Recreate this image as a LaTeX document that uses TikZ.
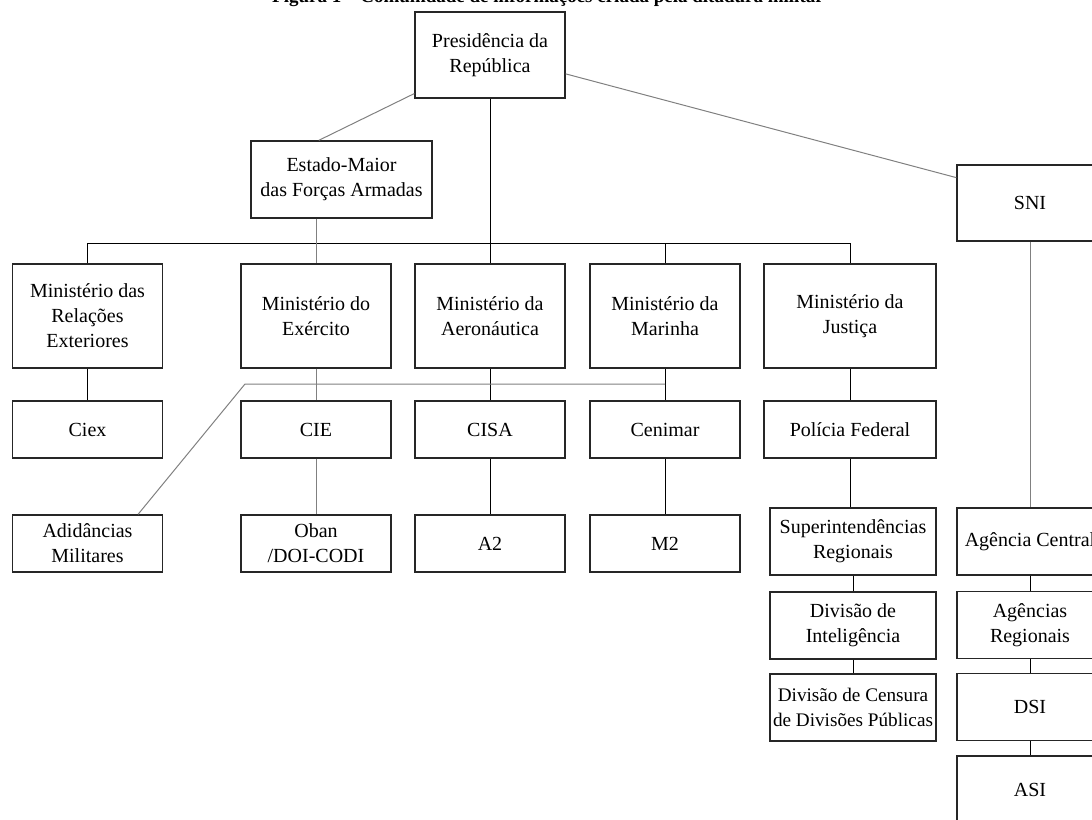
\documentclass[tikz,border=0pt]{standalone}
\usepackage{fontspec}
\setmainfont{Liberation Serif}
\begin{document}
\begin{tikzpicture}[x=0.5pt, y=-0.5pt,
    org/.style={draw=black!85, line width=0.7pt, align=center, inner sep=1pt,
      minimum width=75pt, font=\fontsize{10}{12.5}\selectfont},
    link/.style={line width=0.5pt},
    faint/.style={line width=0.5pt, draw=black!50}]
  \useasboundingbox (0,0) rectangle (1092,819);
  \clip (0,0) rectangle (1092,819);
  % title, cut at the top edge
  \node[font=\bfseries\fontsize{9.5}{11}\selectfont, anchor=base, inner sep=0pt] (titulo) at (548,3)
    {Figura 1 -- Comunidade de informações criada pela ditadura militar};
  % top level
  \node[org, minimum height=43pt] (pres) at (490,55) {Presidência da\\República};
  \node[org, minimum width=90.5pt, minimum height=38.5pt] (emfa) at (341.5,179.5) {Estado-Maior\\das Forças Armadas};
  \node[org, minimum width=73pt, minimum height=38pt] (sni) at (1030,203) {SNI};
  % ministerios
  \node[org, minimum height=52pt] (mre) at (87.5,316) {Ministério das\\Relações\\Exteriores};
  \node[org, minimum height=52pt] (mex) at (316,316) {Ministério do\\Exército};
  \node[org, minimum height=52pt] (maer) at (490,316) {Ministério da\\Aeronáutica};
  \node[org, minimum height=52pt] (mmar) at (665,316) {Ministério da\\Marinha};
  \node[org, minimum width=86pt, minimum height=52pt] (mjus) at (850,316) {Ministério da\\Justiça};
  % orgaos
  \node[org, minimum height=28.5pt] (ciex) at (87.5,429.5) {Ciex};
  \node[org, minimum height=28.5pt] (cie) at (316,429.5) {CIE};
  \node[org, minimum height=28.5pt] (cisa) at (490,429.5) {CISA};
  \node[org, minimum height=28.5pt] (cenimar) at (665,429.5) {Cenimar};
  \node[org, minimum width=86pt, minimum height=28.5pt] (pf) at (850,429.5) {Polícia Federal};
  \node[org, minimum height=28.5pt] (adid) at (87.5,543.5) {Adidâncias\\Militares};
  \node[org, minimum height=28.5pt] (oban) at (316,543.5) {Oban\\/DOI-CODI};
  \node[org, minimum height=28.5pt] (a2) at (490,543.5) {A2};
  \node[org, minimum height=28.5pt] (m2) at (665,543.5) {M2};
  % policia federal
  \node[org, minimum width=83pt, minimum height=33.5pt] (sup) at (853,541.5) {Superintendências\\Regionais};
  \node[org, minimum width=83pt, minimum height=33.5pt] (dint) at (853,625.5) {Divisão de\\Inteligência};
  \node[org, minimum width=83pt, minimum height=33.5pt, inner sep=0pt,
    font=\fontsize{9.6}{12.5}\selectfont] (dcen) at (853,707.5) {Divisão de Censura\\de Divisões Públicas};
  % SNI
  \node[org, minimum width=73pt, minimum height=33.5pt] (agc) at (1030,541.5) {Agência Central};
  \node[org, minimum width=73pt, minimum height=33.5pt] (agr) at (1030,625) {Agências\\Regionais};
  \node[org, minimum width=73pt, minimum height=33.5pt] (dsi) at (1030,707) {DSI};
  \node[org, minimum width=73pt, minimum height=33.5pt] (asi) at (1030,789.5) {ASI};
  % ligacoes
  \draw[faint] (pres.207) -- (emfa.120);
  \draw[faint] (pres.-14) -- (sni.161);
  \draw[link] (pres) -- (maer);
  \coordinate (barra) at (0,243);
  \draw[link] (mre.north) |- (barra -| mjus) -- (mjus.north);
  \draw[link] (barra -| mmar) -- (mmar);
  \draw[faint] (emfa.south -| mex) -- (mex.north);
  \foreach \a/\b in {mre/ciex, maer/cisa, mmar/cenimar, mjus/pf, cisa/a2, cenimar/m2,
      sup/dint, dint/dcen, agc/agr, agr/dsi, dsi/asi}
    \draw[link] (\a) -- (\b);
  \foreach \a/\b in {mex/cie, cie/oban, sni/agc}
    \draw[faint] (\a) -- (\b);
  \draw[link] (pf.south) -- (pf.south |- sup.north);
  \coordinate (dobra) at (245,384);
  \draw[faint] (adid.30) -- (dobra) -- (dobra -| mmar);
\end{tikzpicture}
\end{document}
